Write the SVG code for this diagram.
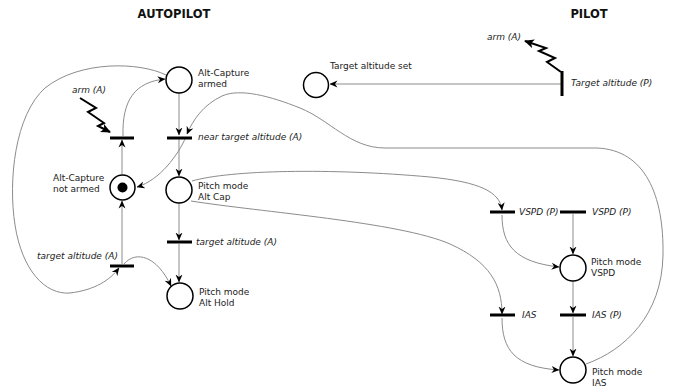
<svg xmlns="http://www.w3.org/2000/svg" width="673" height="390" viewBox="0 0 673 390">
<style>
.place{fill:#fff;stroke:#000;stroke-width:1.5}
.bar{stroke:#000;stroke-width:3;fill:none}
.arc{fill:none;stroke:#8c8c8c;stroke-width:1}
.zig{fill:none;stroke:#000;stroke-width:2}
.lbl{font-family:"DejaVu Sans",sans-serif;font-size:9px;fill:#222}
.it{font-family:"DejaVu Sans",sans-serif;font-size:9px;font-style:italic;fill:#222}
.title{font-family:"DejaVu Sans",sans-serif;font-size:11.5px;font-weight:bold;fill:#111}
</style>
<defs>
<marker id="ah" markerUnits="userSpaceOnUse" markerWidth="8" markerHeight="8" refX="7.5" refY="4" orient="auto">
<path d="M0,0.5 L8,4 L0,7.5 L2.5,4 Z" fill="#000"/>
</marker>
<marker id="zh" markerUnits="userSpaceOnUse" markerWidth="10" markerHeight="10" refX="9" refY="5" orient="auto">
<path d="M0,0.5 L10,5 L0,9.5 L2.5,5 Z" fill="#000"/>
</marker>
</defs>
<text class="title" x="174" y="18" text-anchor="middle">AUTOPILOT</text>
<text class="title" x="589" y="18" text-anchor="middle">PILOT</text>
<g id="connectors">
<path class="arc" d="M179,93 L179,135" marker-end="url(#ah)"/>
<path class="arc" d="M179,139 L179,176" marker-end="url(#ah)"/>
<path class="arc" d="M179,203 L179,240" marker-end="url(#ah)"/>
<path class="arc" d="M179,244 L179,282" marker-end="url(#ah)"/>
<path class="arc" d="M122,174 L122,140" marker-end="url(#ah)"/>
<path class="arc" d="M122,264 L122,201" marker-end="url(#ah)"/>
<path class="arc" d="M123,136 C122,100 135,82 165,79" marker-end="url(#ah)"/>
<path class="arc" d="M166,75 C140,62 80,60 45,88 C15,115 8,180 15,225 C22,270 45,295 70,293 C95,290 110,280 119,268" marker-end="url(#ah)"/>
<path class="arc" d="M124,264 C136,250 157,256 171,286" marker-end="url(#ah)"/>
<path class="arc" d="M586,364 C625,350 662,315 663,255 C664,195 645,150 597,148 L385,148 C350,148 330,120 300,108 C270,96 240,88 222,96 C203,105 193,120 187,134" marker-end="url(#ah)"/>
<path class="arc" d="M186,137 C178,155 160,180 137,187" marker-end="url(#ah)"/>
<path class="arc" d="M192,181 C230,170 330,168 430,177 C480,182 500,192 502,210" marker-end="url(#ah)"/>
<path class="arc" d="M191,201 C260,212 400,222 450,244 C490,262 502,285 502,314" marker-end="url(#ah)"/>
<path class="arc" d="M502,215 C502,245 515,262 559,267" marker-end="url(#ah)"/>
<path class="arc" d="M502,318 C502,350 515,367 559,370" marker-end="url(#ah)"/>
<path class="arc" d="M573,214 L573,254" marker-end="url(#ah)"/>
<path class="arc" d="M573,281 L573,313" marker-end="url(#ah)"/>
<path class="arc" d="M573,317 L573,356" marker-end="url(#ah)"/>
<path class="arc" d="M561,84 L330,84" marker-end="url(#ah)"/>
<path class="zig" d="M80,98 L96,108 L88,112 L104,123 L98,126 L110,132" marker-end="url(#zh)"/>
<path class="zig" d="M561,72 L547,62 L555,58 L539,51 L546,48 L525,41" marker-end="url(#zh)"/>
</g>
<g id="alt-capture-armed"><circle class="place" cx="179" cy="80" r="13"/><text class="lbl" x="198" y="76">Alt-Capture</text><text class="lbl" x="198" y="87">armed</text></g>
<g id="alt-capture-not-armed"><circle class="place" cx="122.5" cy="187.5" r="12.5"/><circle cx="122.5" cy="187.5" r="5" fill="#000"/><text class="lbl" x="53" y="181">Alt-Capture</text><text class="lbl" x="53" y="192">not armed</text></g>
<g id="pitch-alt-cap"><circle class="place" cx="179" cy="190" r="13"/><text class="lbl" x="198" y="189">Pitch mode</text><text class="lbl" x="198" y="200">Alt Cap</text></g>
<g id="pitch-alt-hold"><circle class="place" cx="180" cy="296" r="13"/><text class="lbl" x="199" y="295">Pitch mode</text><text class="lbl" x="199" y="306">Alt Hold</text></g>
<g id="target-altitude-set"><circle class="place" cx="316" cy="85" r="12.5"/><text class="lbl" x="330" y="69">Target altitude set</text></g>
<g id="pitch-vspd"><circle class="place" cx="573" cy="268" r="13"/><text class="lbl" x="591" y="265">Pitch mode</text><text class="lbl" x="591" y="276">VSPD</text></g>
<g id="pitch-ias"><circle class="place" cx="573" cy="370" r="13"/><text class="lbl" x="592" y="375">Pitch mode</text><text class="lbl" x="592" y="386">IAS</text></g>
<g id="t-arm"><line class="bar" x1="110" y1="138" x2="134" y2="138"/><text class="it" x="72" y="93">arm (A)</text></g>
<g id="t-near-target"><line class="bar" x1="167" y1="138" x2="192" y2="138"/><text class="it" x="198" y="140">near target altitude (A)</text></g>
<g id="t-target-alt-mid"><line class="bar" x1="167" y1="242" x2="192" y2="242"/><text class="it" x="196" y="245">target altitude (A)</text></g>
<g id="t-target-alt-left"><line class="bar" x1="110" y1="266" x2="134" y2="266"/><text class="it" x="37" y="259">target altitude (A)</text></g>
<g id="t-target-alt-p"><line class="bar" x1="562" y1="71" x2="562" y2="96"/><text class="it" x="571" y="86">Target altitude (P)</text><text class="it" x="487" y="40">arm (A)</text></g>
<g id="t-vspd-left"><line class="bar" x1="490" y1="212" x2="515" y2="212"/><text class="it" x="519" y="215">VSPD (P)</text></g>
<g id="t-vspd-right"><line class="bar" x1="560" y1="212" x2="586" y2="212"/><text class="it" x="592" y="215">VSPD (P)</text></g>
<g id="t-ias-left"><line class="bar" x1="490" y1="315" x2="515" y2="315"/><text class="it" x="522" y="318">IAS</text></g>
<g id="t-ias-right"><line class="bar" x1="560" y1="315" x2="586" y2="315"/><text class="it" x="592" y="318">IAS (P)</text></g>
</svg>
